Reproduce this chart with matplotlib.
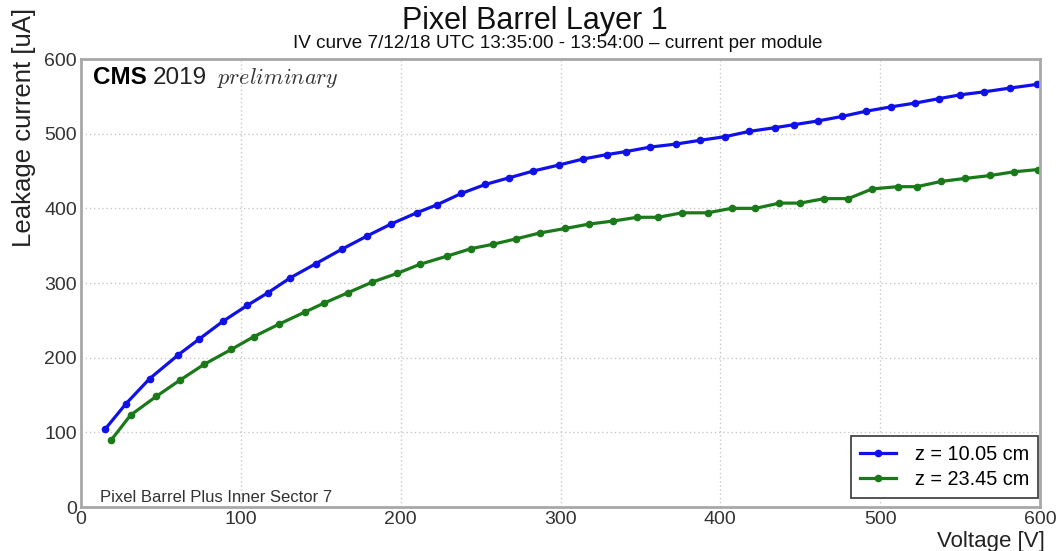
import matplotlib
matplotlib.use("Agg")
import matplotlib.pyplot as plt

plt.rcParams['mathtext.fontset'] = 'cm'

# ---- data ----
v_blue = [15, 28, 43, 61, 74, 89, 104, 117, 131, 147, 163, 179, 194, 210, 223, 238, 253, 268,
          283, 299, 314, 329, 341, 356, 372, 387, 403, 418, 434, 446, 461, 476, 491, 507, 522,
          537, 550, 565, 581, 598]
i_blue = [104, 138, 172, 204, 225, 249, 270, 287, 307, 326, 345, 363, 379, 394, 405, 420, 432, 441,
          450, 458, 466, 472, 476, 482, 486, 491, 496, 503, 508, 512, 517, 523, 530, 536, 541,
          547, 552, 556, 561, 566]
v_green = [19, 31, 47, 62, 77, 94, 108, 124, 140, 152, 167, 182, 198, 212, 229, 244, 258, 272,
           287, 303, 318, 333, 348, 361, 376, 392, 407, 422, 437, 450, 465, 480, 495, 511, 523,
           538, 553, 569, 584, 599]
i_green = [90, 123, 148, 170, 191, 211, 228, 245, 261, 273, 287, 301, 313, 325, 336, 346, 352, 359,
           367, 373, 379, 383, 388, 388, 394, 394, 400, 400, 407, 407, 413, 413, 426, 429, 429,
           436, 440, 444, 449, 452]
labels = ["z = 10.05 cm", "z = 23.45 cm"]
colors = ["#1010e8", "#1a7a1a"]
x_ticks = [0, 100, 200, 300, 400, 500, 600]
y_ticks = [0, 100, 200, 300, 400, 500, 600]

W, H = 1056, 551
fig = plt.figure(figsize=(W / 100, H / 100), dpi=100)
ax = fig.add_axes([81 / W, 1 - 507 / H, (1040 - 81) / W, (507 - 59) / H])

font = "Liberation Sans"

ax.plot(v_blue, i_blue, '-o', color=colors[0], lw=2.3, ms=4.5, label=labels[0])
ax.plot(v_green, i_green, '-o', color=colors[1], lw=2.3, ms=4.5, label=labels[1])

ax.set_xlim(0, 600)
ax.set_ylim(0, 600)
ax.set_xticks(x_ticks)
ax.set_yticks(y_ticks)
ax.tick_params(length=0, labelsize=14, labelcolor="#333333", pad=3)
for lab in ax.get_xticklabels() + ax.get_yticklabels():
    lab.set_fontfamily(font)
ax.grid(True, linestyle=(0, (1, 2)), color="#c8c8c8", lw=1)
for s in ax.spines.values():
    s.set_color("#a8a8a8")
    s.set_linewidth(2)

ax.text(1.005, -0.0536, "Voltage [V]", transform=ax.transAxes, ha="right", va="top",
        fontsize=16, family=font, color="#222222")
fig.text(24 / W, 1 - 127 / H, "Leakage current [uA]", rotation=90, ha="center", va="center",
         fontsize=18.5, family=font, color="#222222")

fig.text(535 / W, 1 - 21 / H, "Pixel Barrel Layer 1", ha="center", va="center",
         fontsize=22, family=font, color="#111111")
fig.text(558 / W, 1 - 44 / H, "IV curve 7/12/18 UTC 13:35:00 - 13:54:00 \u2013 current per module",
         ha="center", va="center", fontsize=13.6, family=font, color="#111111")

ax.text(0.012, 0.945, "CMS", transform=ax.transAxes, fontsize=17.5, weight="bold", family=font,
        va="baseline", ha="left")
ax.text(0.075, 0.945, "2019", transform=ax.transAxes, fontsize=17.5, family=font,
        va="baseline", ha="left", color="#222222")
ax.text(0.142, 0.945, r"$\mathit{preliminary}$", transform=ax.transAxes, fontsize=16,
        va="baseline", ha="left", color="#333333")

ax.text(0.02, 0.012, "Pixel Barrel Plus Inner Sector 7", transform=ax.transAxes, fontsize=12,
        family=font, color="#333333", va="baseline", ha="left")

leg = ax.legend(loc="lower right", bbox_to_anchor=(0.998, 0.02), borderaxespad=0,
                prop={"family": font, "size": 14.3}, fancybox=False,
                framealpha=1, borderpad=0.45, handlelength=1.8, handletextpad=0.95,
                labelspacing=0.3)
leg.get_frame().set_edgecolor("#444444")
leg.get_frame().set_linewidth(1.3)

fig.savefig("out.png", dpi=100)
